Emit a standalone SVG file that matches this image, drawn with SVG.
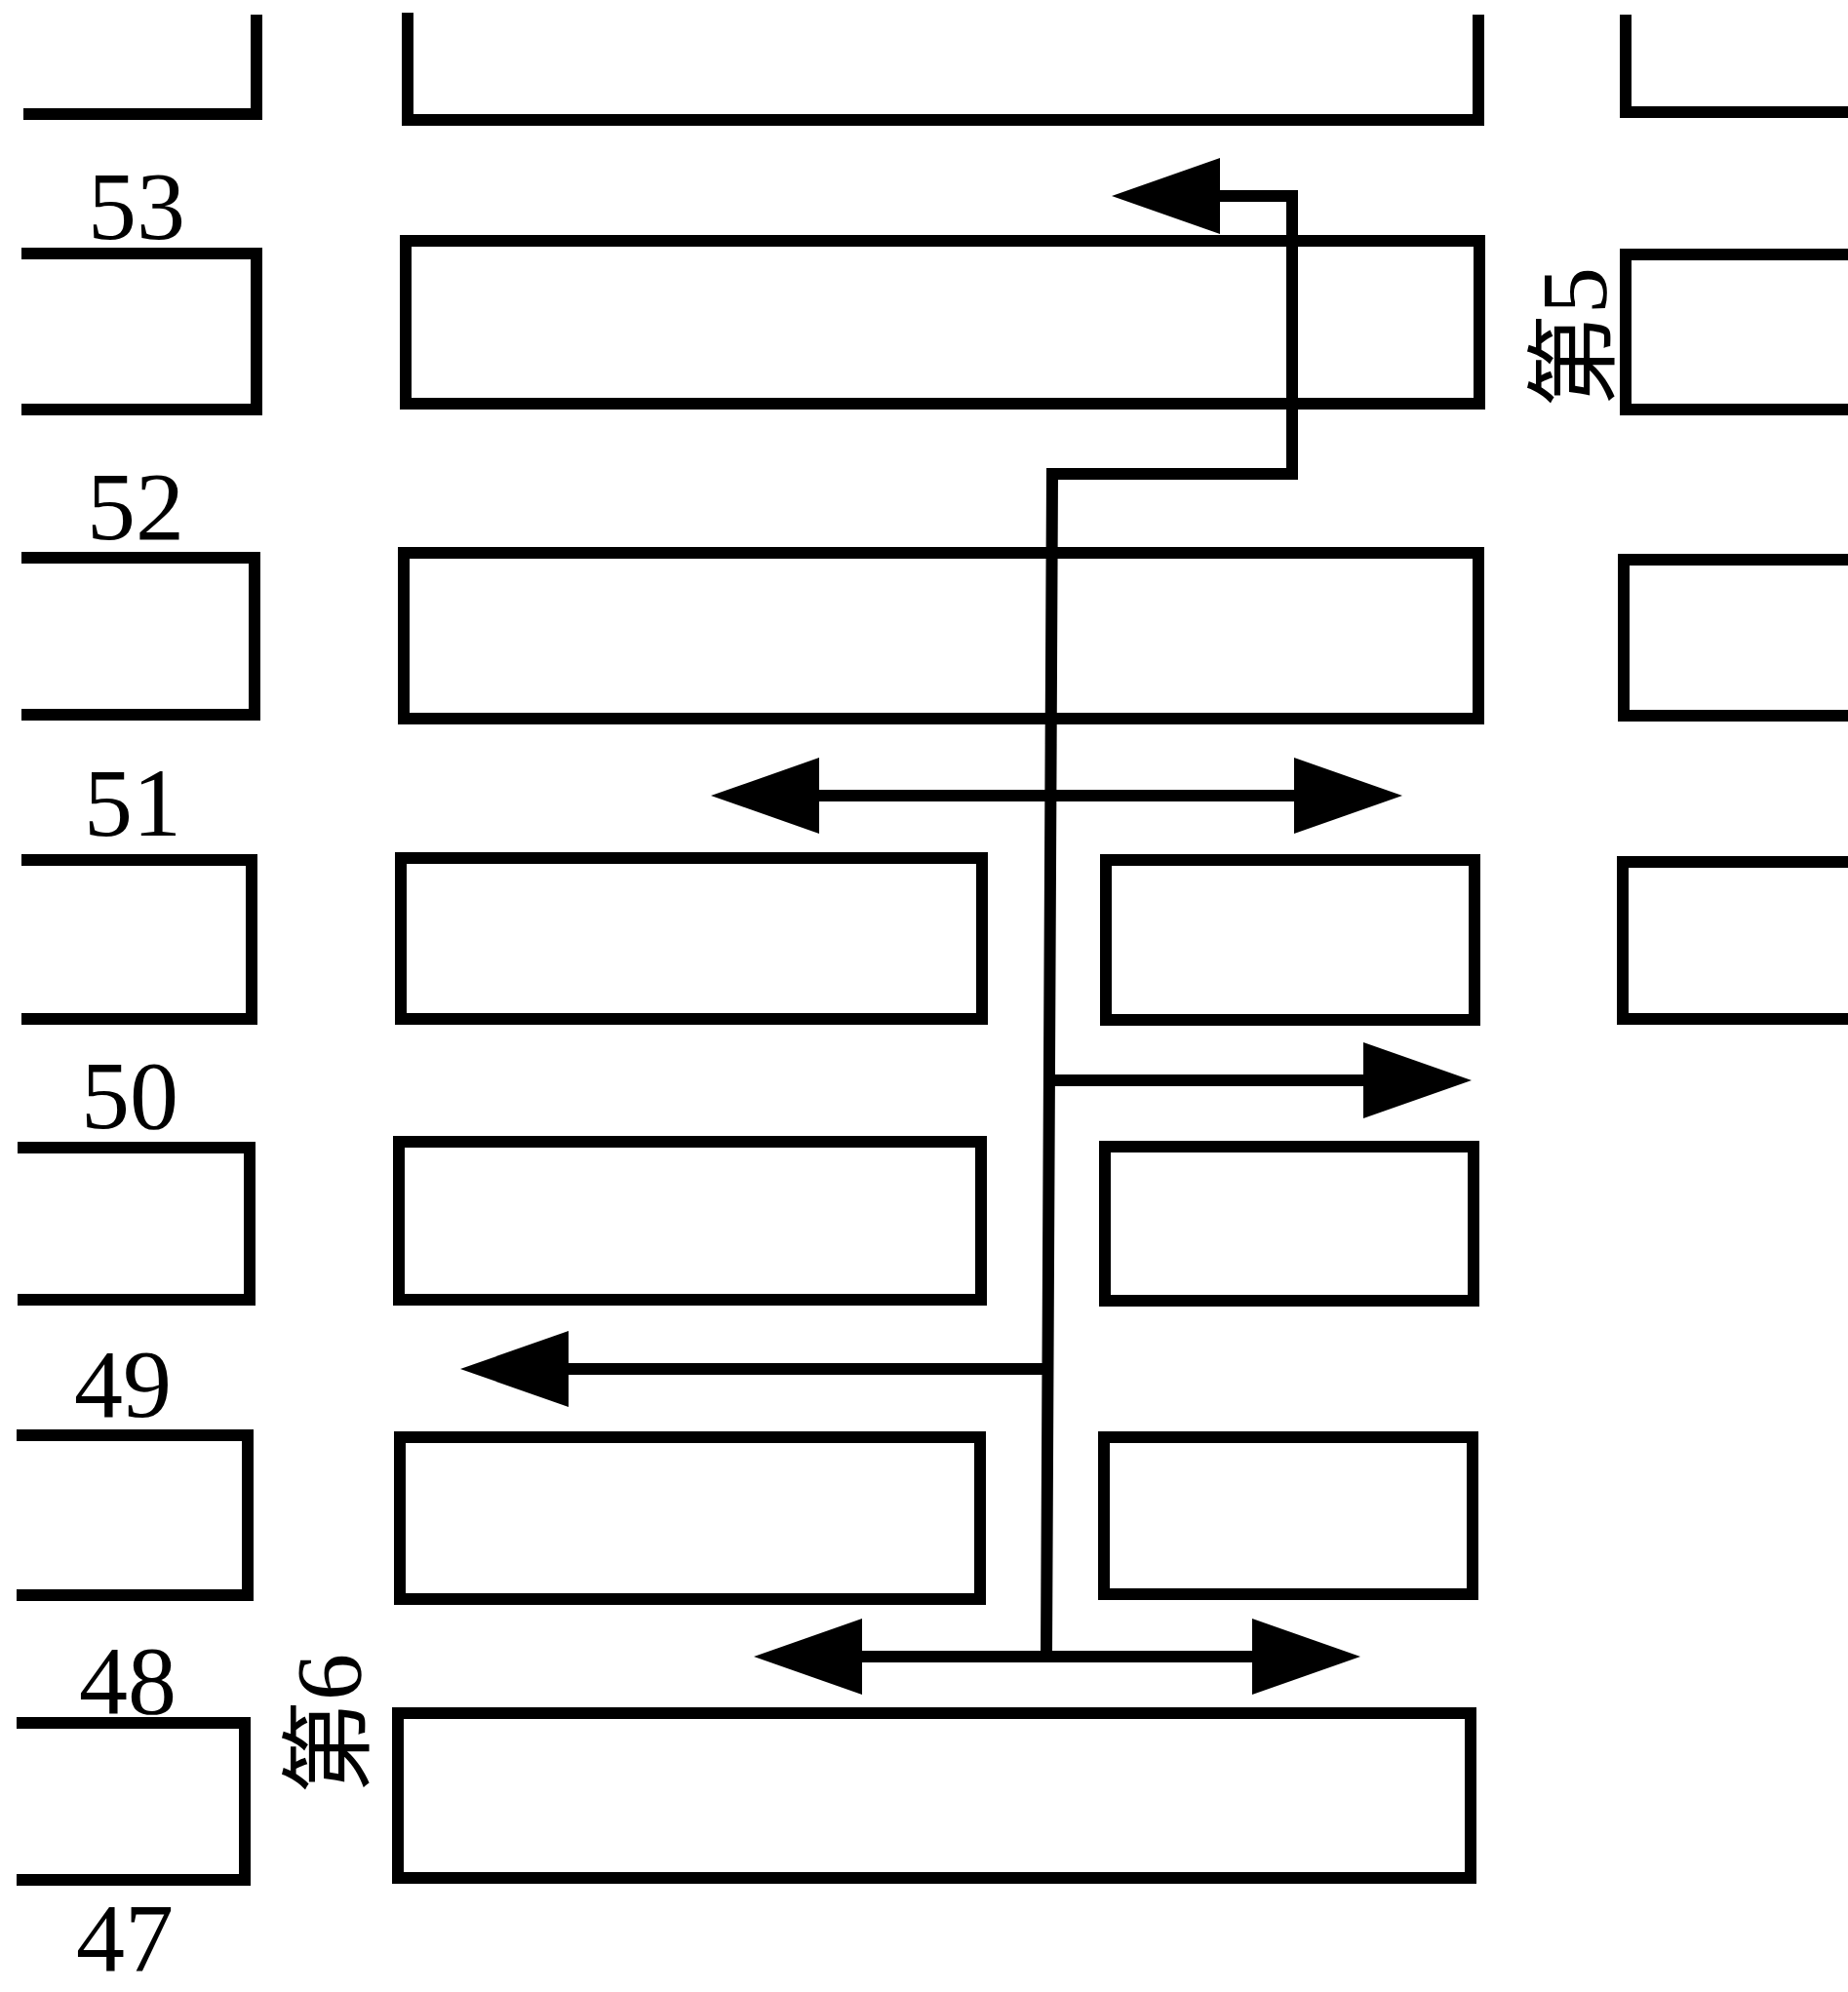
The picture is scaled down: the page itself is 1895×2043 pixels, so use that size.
<svg xmlns="http://www.w3.org/2000/svg" width="1895" height="2043" viewBox="0 0 1895 2043">
<style>
.bx{fill:none;stroke:#000;stroke-width:12;stroke-linejoin:miter}
.ln{fill:none;stroke:#000;stroke-width:12;stroke-linejoin:miter}
.lb{font-family:"Liberation Serif","Times New Roman",serif;font-size:100px;fill:#000;text-anchor:middle}
.rl{font-family:"Liberation Serif","Noto Sans CJK SC",serif;font-size:96px;fill:#000}
</style>
<defs>
<marker id="ah" viewBox="0 0 111 78" refX="0" refY="39" markerWidth="111" markerHeight="78" markerUnits="userSpaceOnUse" orient="auto-start-reverse">
<path d="M0,0 L111,39 L0,78 Z" fill="#000"/>
</marker>
</defs>
<rect width="1895" height="2043" fill="#fff"/>

<g id="rowTop">
<path id="A_top" class="bx" d="M24,117 H263 V15"/>
<path id="B_top" class="bx" d="M418,13 V123 H1516 V15"/>
<path id="C_top" class="bx" d="M1667,15 V115 H1895"/>
</g>

<g id="row53">
<path id="A53" class="bx" d="M22,260 H263 V420 H22"/>
<rect id="B53" class="bx" x="416" y="247" width="1101" height="167"/>
<path id="C53" class="bx" d="M1895,261 H1667 V420 H1895"/>
</g>

<g id="row52">
<path id="A52" class="bx" d="M22,572 H261 V733 H22"/>
<rect id="B52" class="bx" x="414" y="567" width="1102" height="170"/>
<path id="C52" class="bx" d="M1895,574 H1665 V734 H1895"/>
</g>

<g id="row51">
<path id="A51" class="bx" d="M22,882 H258 V1045 H22"/>
<rect id="B51L" class="bx" x="411" y="880" width="596" height="165"/>
<rect id="B51R" class="bx" x="1134" y="882" width="378" height="164"/>
<path id="C51" class="bx" d="M1895,884 H1664 V1045 H1895"/>
</g>

<g id="row50">
<path id="A50" class="bx" d="M18,1177 H256 V1333 H18"/>
<rect id="B50L" class="bx" x="409" y="1171" width="597" height="162"/>
<rect id="B50R" class="bx" x="1133" y="1176" width="378" height="158"/>
</g>

<g id="row49">
<path id="A49" class="bx" d="M17,1472 H254 V1636 H17"/>
<rect id="B49L" class="bx" x="410" y="1474" width="595" height="166"/>
<rect id="B49R" class="bx" x="1132" y="1474" width="378" height="161"/>
</g>

<g id="row48">
<path id="A48" class="bx" d="M17,1767 H251 V1928 H17"/>
<rect id="B48" class="bx" x="408" y="1757" width="1100" height="169"/>
</g>

<g id="labels">
<text class="lb" x="140" y="245">53</text>
<text class="lb" x="139" y="553">52</text>
<text class="lb" x="136" y="857">51</text>
<text class="lb" x="133" y="1157">50</text>
<text class="lb" x="126" y="1453">49</text>
<text class="lb" x="131" y="1757">48</text>
<text class="lb" x="128" y="2021">47</text>
<text class="rl" transform="translate(1647,418) rotate(-90)">第5</text>
<text class="rl" transform="translate(370,1840) rotate(-90)">第6</text>
</g>

<g id="connectors">
<path class="ln" d="M1073,1699 L1079,486 L1325,486 L1325,201 L1251,201" marker-end="url(#ah)"/>
<path class="ln" d="M840,816 L1327,816" marker-start="url(#ah)" marker-end="url(#ah)"/>
<path class="ln" d="M1077,1108 L1398,1108" marker-end="url(#ah)"/>
<path class="ln" d="M1075,1404 L583,1404" marker-end="url(#ah)"/>
<path class="ln" d="M884,1699 L1284,1699" marker-start="url(#ah)" marker-end="url(#ah)"/>
</g>
</svg>
